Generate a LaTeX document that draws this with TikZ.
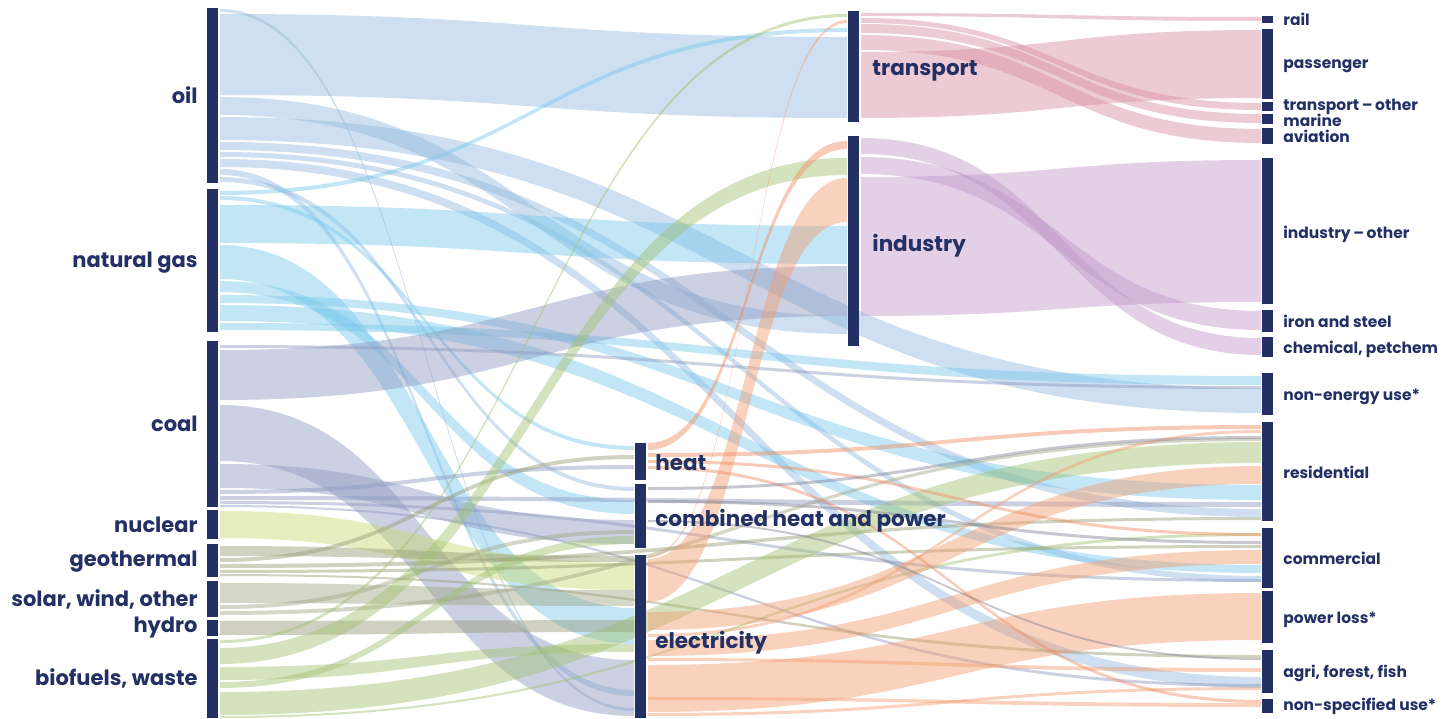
\documentclass[tikz,border=0pt]{standalone}
\usepackage{fontspec}
\setmainfont{Poppins}
\usetikzlibrary{positioning}

\definecolor{navy}{RGB}{34,48,100}
\definecolor{oilc}{RGB}{145,185,221}
\definecolor{gasc}{RGB}{120,200,235}
\definecolor{coalc}{RGB}{140,152,192}
\definecolor{nucc}{RGB}{200,215,110}
\definecolor{geoc}{RGB}{150,155,115}
\definecolor{solc}{RGB}{160,165,130}
\definecolor{hydc}{RGB}{150,150,120}
\definecolor{bioc}{RGB}{160,192,110}
\definecolor{elecc}{RGB}{242,155,110}
\definecolor{heatc}{RGB}{238,140,95}
\definecolor{chpc}{RGB}{130,130,150}
\definecolor{trac}{RGB}{215,140,162}
\definecolor{indc}{RGB}{192,150,200}

\tikzset{
  bar/.style={fill=navy, inner sep=0pt, minimum width=11},
  band/.style={fill opacity=0.45},
  srclab/.style={text=navy, inner sep=0pt, font=\bfseries\fontsize{21}{24}\selectfont},
  midlab/.style={text=navy, inner sep=0pt, font=\bfseries\fontsize{21.5}{24}\selectfont},
  endlab/.style={text=navy, inner sep=0pt, font=\bfseries\fontsize{15.5}{17}\selectfont},
}

% flow band: colour, x1, y1 top, y1 bottom, x2, y2 top, y2 bottom
\newcommand\flow[7]{%
  \pgfmathsetmacro\xmid{(#2+#5)/2}%
  \fill[band, #1] (#2,#3) .. controls (\xmid,#3) and (\xmid,#6) .. (#5,#6)
    -- (#5,#7) .. controls (\xmid,#7) and (\xmid,#4) .. (#2,#4) -- cycle;}

\begin{document}
\begin{tikzpicture}[x=1pt, y=-1pt]
\useasboundingbox (0,0) rectangle (1451,719);

% oil
\flow{oilc}{220}{9}{12}{634}{708}{711}
\flow{oilc}{220}{14}{95}{847}{37}{118}
\flow{oilc}{220}{97}{115}{847}{316}{334}
\flow{oilc}{220}{117}{140}{1261}{388}{413}
\flow{oilc}{220}{142}{150}{1261}{509}{517}
\flow{oilc}{220}{152}{157}{1261}{576}{582}
\flow{oilc}{220}{159}{167}{1261}{677}{688}
\flow{oilc}{220}{169}{175}{634}{690}{696}
\flow{oilc}{220}{177}{182}{634}{487}{491}

% natural gas
\flow{gasc}{220}{191}{195}{847}{28}{32}
\flow{gasc}{220}{196}{200}{634}{446}{450}
\flow{gasc}{220}{205}{243}{847}{226}{264}
\flow{gasc}{220}{245}{279}{634}{608}{644}
\flow{gasc}{220}{281}{292}{634}{500}{514}
\flow{gasc}{220}{295}{303}{1261}{485}{500}
\flow{gasc}{220}{305}{321}{1261}{565}{573}
\flow{gasc}{220}{323}{330}{1261}{376}{385}

% coal
\flow{coalc}{220}{345}{348}{1261}{386}{389}
\flow{coalc}{220}{350}{400}{847}{266}{316}
\flow{coalc}{220}{405}{461}{634}{660}{716}
\flow{coalc}{220}{464}{488}{634}{520}{544}
\flow{coalc}{220}{490}{494}{634}{465}{469}
\flow{coalc}{220}{496}{500}{1261}{502}{507}
\flow{coalc}{220}{501}{504}{1261}{579}{582}
\flow{coalc}{220}{505}{507}{1261}{684}{687}

% nuclear, geothermal, solar, hydro
\flow{nucc}{220}{511}{538}{634}{563}{590}
\flow{geoc}{220}{546}{556}{634}{556}{562}
\flow{geoc}{220}{558}{562}{634}{455}{459}
\flow{geoc}{220}{564}{568}{1261}{517}{520}
\flow{geoc}{220}{570}{573}{1261}{545}{548}
\flow{geoc}{220}{574}{576}{1261}{655}{658}
\flow{solc}{220}{583}{603}{634}{590}{606}
\flow{solc}{220}{605}{609}{634}{530}{534}
\flow{solc}{220}{611}{615}{1261}{438}{441}
\flow{hydc}{220}{621}{635}{634}{620}{632}

% biofuels, waste
\flow{bioc}{220}{640}{643}{847}{14}{17}
\flow{bioc}{220}{648}{664}{847}{158}{175}
\flow{bioc}{220}{667}{680}{634}{644}{652}
\flow{bioc}{220}{682}{688}{634}{536}{544}
\flow{bioc}{220}{692}{715}{1261}{442}{463}
\flow{bioc}{220}{716}{718}{1261}{533}{536}

% electricity, heat, chp
\flow{elecc}{648}{556}{558}{847}{20}{23}
\flow{elecc}{648}{559}{602}{847}{178}{222}
\flow{elecc}{648}{612}{630}{1261}{466}{484}
\flow{elecc}{648}{640}{656}{1261}{550}{564}
\flow{elecc}{648}{634}{637}{1261}{430}{433}
\flow{elecc}{648}{658}{661}{1261}{668}{672}
\flow{elecc}{648}{665}{712}{1261}{593}{640}
\flow{elecc}{648}{697}{700}{1261}{703}{707}
\flow{elecc}{648}{713}{716}{1261}{687}{690}
\flow{heatc}{648}{443}{450}{847}{141}{149}
\flow{heatc}{648}{453}{457}{1261}{425}{429}
\flow{heatc}{648}{460}{463}{1261}{533}{536}
\flow{heatc}{648}{466}{469}{1261}{700}{703}
\flow{chpc}{648}{487}{490}{1261}{436}{439}
\flow{chpc}{648}{500}{503}{1261}{541}{544}
\flow{chpc}{648}{520}{522}{1261}{658}{660}

% transport, industry
\flow{trac}{861}{13}{16}{1261}{17}{21}
\flow{trac}{861}{18}{23}{1261}{103}{110}
\flow{trac}{861}{24}{33}{1261}{114}{123}
\flow{trac}{861}{35}{50}{1261}{129}{143}
\flow{trac}{861}{52}{118}{1261}{30}{98}
\flow{indc}{861}{138}{154}{1261}{338}{355}
\flow{indc}{861}{157}{174}{1261}{311}{330}
\flow{indc}{861}{177}{316}{1261}{160}{302}

% sources
\node[bar, minimum height=175] (oil) at (212.5,95.5) {};
\node[bar, minimum height=143] (gas) at (212.5,260.5) {};
\node[bar, minimum height=166] (coal) at (212.5,424) {};
\node[bar, minimum height=29] (nuclear) at (212.5,524.5) {};
\node[bar, minimum height=33] (geo) at (212.5,560.5) {};
\node[bar, minimum height=36] (solar) at (212.5,599) {};
\node[bar, minimum height=16] (hydro) at (212.5,628) {};
\node[bar, minimum height=79] (bio) at (212.5,678.5) {};
\node[srclab, left=9 of oil] {oil};
\node[srclab, left=9 of gas, yshift=-2] {natural gas};
\node[srclab, left=9 of coal] {coal};
\node[srclab, left=9 of nuclear] {nuclear};
\node[srclab, left=9 of geo, yshift=-1] {geothermal};
\node[srclab, left=9 of solar] {solar, wind, other};
\node[srclab, left=9 of hydro] {hydro};
\node[srclab, left=9 of bio] {biofuels, waste};

% conversion and sectors
\node[bar, minimum height=37] (heat) at (640.5,461.5) {};
\node[bar, minimum height=64] (chp) at (640.5,516) {};
\node[bar, minimum height=163] (elec) at (640.5,636.5) {};
\node[bar, minimum height=111] (transport) at (853.5,66.5) {};
\node[bar, minimum height=210] (industry) at (853.5,241) {};
\node[midlab, right=9 of heat, yshift=-1] {heat};
\node[midlab, right=9 of chp, yshift=-5] {combined heat and power};
\node[midlab, right=9 of elec, yshift=-6] {electricity};
\node[midlab, right=13 of transport, yshift=-4] {transport};
\node[midlab, right=13 of industry, yshift=-5] {industry};

% end uses
\node[bar, minimum height=7] (rail) at (1267.5,19.5) {};
\node[bar, minimum height=70] (passenger) at (1267.5,64) {};
\node[bar, minimum height=9] (tother) at (1267.5,106.5) {};
\node[bar, minimum height=10] (marine) at (1267.5,119) {};
\node[bar, minimum height=16] (aviation) at (1267.5,136) {};
\node[bar, minimum height=146] (iother) at (1267.5,231) {};
\node[bar, minimum height=22] (iron) at (1267.5,321) {};
\node[bar, minimum height=20] (chem) at (1267.5,347) {};
\node[bar, minimum height=42] (nonenergy) at (1267.5,394) {};
\node[bar, minimum height=99] (resid) at (1267.5,471.5) {};
\node[bar, minimum height=60] (comm) at (1267.5,558) {};
\node[bar, minimum height=52] (loss) at (1267.5,617) {};
\node[bar, minimum height=43] (agri) at (1267.5,671.5) {};
\node[bar, minimum height=14] (nonspec) at (1267.5,706) {};
\node[endlab, right=10 of rail] {rail};
\node[endlab, right=10 of passenger, yshift=-2] {passenger};
\node[endlab, right=10 of tother] {transport\,–\,other};
\node[endlab, right=10 of marine, yshift=-1] {marine};
\node[endlab, right=10 of aviation] {aviation};
\node[endlab, right=10 of iother, yshift=-3] {industry\,–\,other};
\node[endlab, right=10 of iron] {iron and steel};
\node[endlab, right=10 of chem, yshift=-2] {chemical, petchem};
\node[endlab, right=10 of nonenergy, yshift=-3] {non-energy use*};
\node[endlab, right=10 of resid, yshift=-1] {residential};
\node[endlab, right=10 of comm] {commercial};
\node[endlab, right=10 of loss, yshift=-3] {power loss*};
\node[endlab, right=10 of agri, yshift=-2] {agri, forest, fish};
\node[endlab, right=10 of nonspec] {non-specified use*};
\end{tikzpicture}
\end{document}
